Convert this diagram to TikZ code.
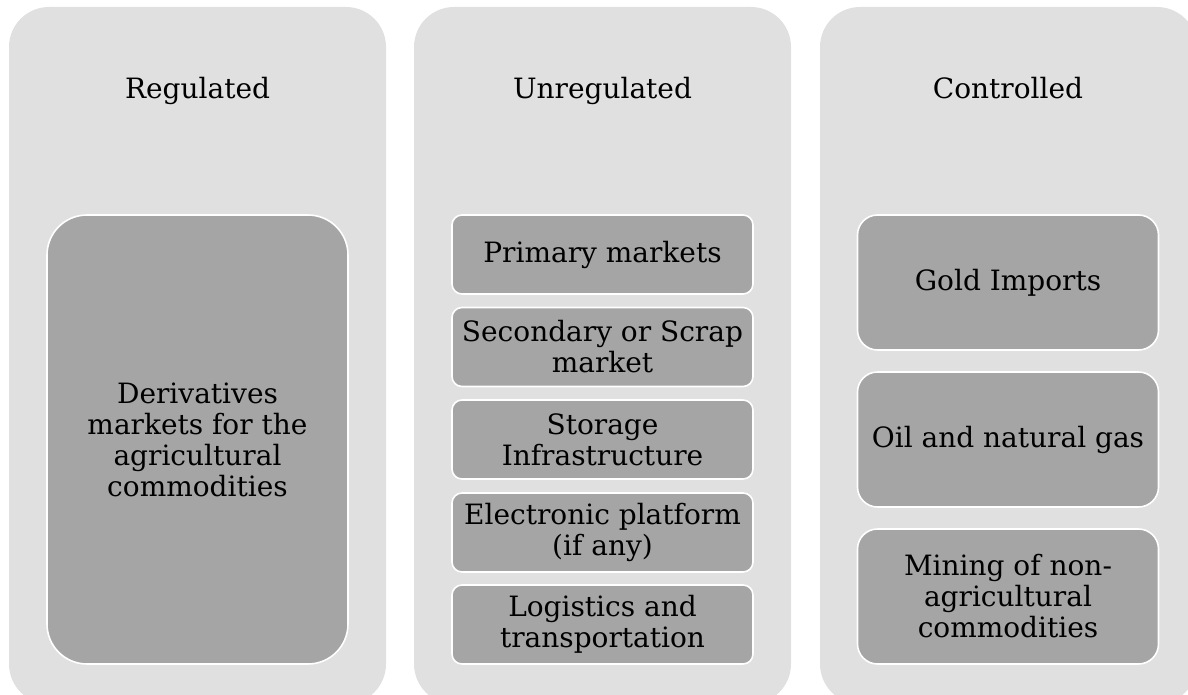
\documentclass[tikz,border=0pt]{standalone}
\usepackage{fontspec}
\setmainfont{DejaVu Serif}
\definecolor{outerbg}{HTML}{E0E0E0}
\definecolor{innerbg}{HTML}{A5A5A5}
\tikzset{
  outerbox/.style={fill=outerbg, draw=none, rounded corners=40pt},
  title/.style={anchor=base, font=\fontsize{28}{31}\selectfont, text=black},
  itembox/.style={fill=innerbg, draw=white, line width=1.6pt, align=center,
    font=\fontsize{28}{31}\selectfont, text=black, inner sep=0pt,
    minimum width=301pt},
}
\begin{document}
\begin{tikzpicture}[x=1pt,y=-1pt]
\useasboundingbox (0,0) rectangle (1188,695);
\clip (0,0) rectangle (1188,695);
% columns
\path[outerbox] (9,7) rectangle (386,704);
\path[outerbox] (414,7) rectangle (791,704);
\path[outerbox] (820,7) rectangle (1197,704);
% titles
\node[title] (t1) at (197.5,99) {Regulated};
\node[title] (t2) at (602.5,99) {Unregulated};
\node[title] (t3) at (1008,99) {Controlled};
% column 1
\node[itembox, rounded corners=40pt, minimum height=449pt] (a1) at (197.5,439.5)
  {Derivatives\\markets for the\\agricultural\\commodities};
% column 2
\node[itembox, rounded corners=10pt, minimum height=79pt] (b1) at (602.5,254.5) {Primary markets};
\node[itembox, rounded corners=10pt, minimum height=79pt] (b2) at (602.5,347) {Secondary or Scrap\\market};
\node[itembox, rounded corners=10pt, minimum height=79pt] (b3) at (602.5,439.5) {Storage\\Infrastructure};
\node[itembox, rounded corners=10pt, minimum height=79pt] (b4) at (602.5,532.5) {Electronic platform\\(if any)};
\node[itembox, rounded corners=10pt, minimum height=79pt] (b5) at (602.5,624.5) {Logistics and\\transportation};
% column 3
\node[itembox, rounded corners=20pt, minimum height=135pt] (c1) at (1008,282.5) {Gold Imports};
\node[itembox, rounded corners=20pt, minimum height=135pt] (c2) at (1008,439.5) {Oil and natural gas};
\node[itembox, rounded corners=20pt, minimum height=135pt] (c3) at (1008,596.5) {Mining of non-\\agricultural\\commodities};
\end{tikzpicture}
\end{document}
